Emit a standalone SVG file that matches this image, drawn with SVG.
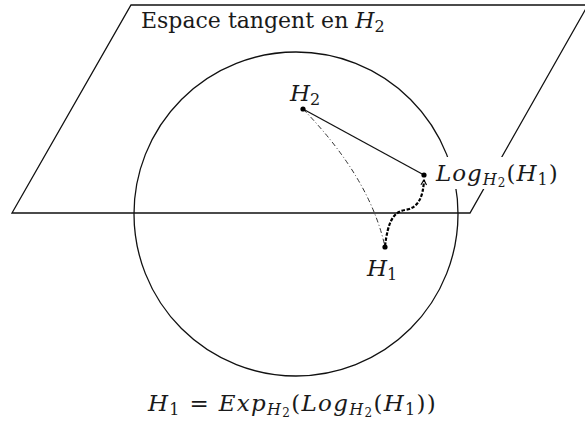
<svg xmlns="http://www.w3.org/2000/svg" width="585" height="421" viewBox="0 0 585 421">
<style>
.ln{fill:none;stroke:#111;stroke-width:1.3}
.pt{fill:#000}
.tx{font-family:"DejaVu Serif","Liberation Serif",serif;fill:#1a1a1a}
.mi{font-style:italic}
.up{font-style:normal}
.ls{letter-spacing:1px}
</style>
<defs>
<marker id="arr" viewBox="0 0 10 10" refX="8" refY="5" markerWidth="7" markerHeight="7" markerUnits="userSpaceOnUse" orient="auto">
<path d="M1,1 L8,5 L1,9" fill="none" stroke="#000" stroke-width="1.6"/>
</marker>
</defs>
<rect width="585" height="421" fill="#fff"/>
<g id="plane">
<polygon class="ln" points="131,5 588,5 470,213 12,213"/>
</g>
<g id="sphere">
<circle class="ln" cx="296" cy="214" r="162"/>
</g>
<g id="label-plane">
<text class="tx" x="141" y="28" font-size="22">Espace tangent en <tspan class="mi">H</tspan><tspan font-size="16" dy="4">2</tspan></text>
</g>
<g id="connectors">
<line class="ln" x1="303" y1="109" x2="424" y2="175"/>
<path d="M303,109 Q370,178 385,247" fill="none" stroke="#333" stroke-width="1" stroke-dasharray="5 2.5 1 2.5"/>
<path d="M385,246 C388,222 393,212 405,210 C418,208 423,198 424,180" fill="none" stroke="#000" stroke-width="2.2" stroke-dasharray="3.5 1.6" marker-end="url(#arr)"/>
</g>
<g id="node-H2">
<circle class="pt" cx="303" cy="109" r="2.6"/>
<text class="tx mi" x="290" y="101" font-size="23">H<tspan class="up" font-size="16" dy="4">2</tspan></text>
</g>
<g id="node-Log">
<rect x="434" y="157" width="126" height="32" fill="#fff"/>
<circle class="pt" cx="424" cy="175" r="2.6"/>
<text class="tx mi ls" x="436" y="181" font-size="23">Log<tspan font-size="16" dy="4">H</tspan><tspan class="up" font-size="12" dy="2">2</tspan><tspan class="up" font-size="23" dy="-6">(</tspan>H<tspan class="up" font-size="16" dy="4">1</tspan><tspan class="up" font-size="23" dy="-4">)</tspan></text>
</g>
<g id="node-H1">
<circle class="pt" cx="385" cy="247" r="2.6"/>
<text class="tx mi" x="367" y="276" font-size="23">H<tspan class="up" font-size="16" dy="4">1</tspan></text>
</g>
<g id="formula">
<text class="tx mi" x="148" y="411" font-size="23" letter-spacing="1.3">H<tspan class="up" font-size="16" dy="4">1</tspan><tspan class="up" dy="-4"> = </tspan>Exp<tspan font-size="16" dy="4">H</tspan><tspan class="up" font-size="12" dy="2">2</tspan><tspan class="up" dy="-6">(</tspan>Log<tspan font-size="16" dy="4">H</tspan><tspan class="up" font-size="12" dy="2">2</tspan><tspan class="up" dy="-6">(</tspan>H<tspan class="up" font-size="16" dy="4">1</tspan><tspan class="up" dy="-4">))</tspan></text>
</g>
</svg>
